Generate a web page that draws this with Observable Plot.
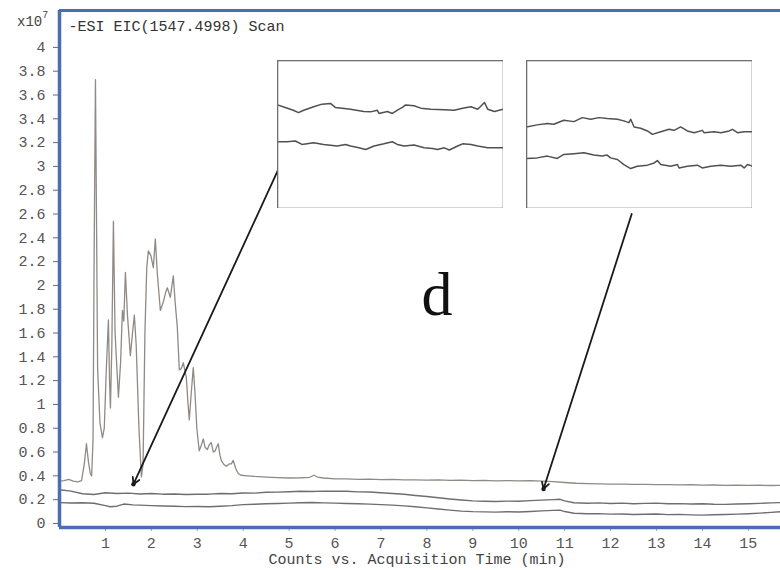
<!DOCTYPE html>
<html>
<head>
<meta charset="utf-8">
<script src="https://cdn.jsdelivr.net/npm/d3@7"></script>
<script src="https://cdn.jsdelivr.net/npm/@observablehq/plot@0.6"></script>
<style>
  html, body { margin: 0; padding: 0; background: #fff; }
  #wrap { position: relative; width: 780px; height: 570px; overflow: hidden; background: #fff; }
  #exp { position: absolute; left: 17px; top: 12px; font-family: 'Liberation Mono', monospace; font-size: 14px; color: #444; }
  #exp sup { font-size: 10px; position: relative; top: -2px; }
  .inset { position: absolute; top: 60px; background: #fff; }
</style>
</head>
<body>
<div id="wrap">
  <div id="exp">x10<sup>7</sup></div>
</div>
<script>
// ---------- data ----------
const titleText = "-ESI EIC(1547.4998) Scan";
const xAxisTitle = "Counts vs. Acquisition Time (min)";
const xTicks = [1,2,3,4,5,6,7,8,9,10,11,12,13,14,15];
const yTicks = [0,0.2,0.4,0.6,0.8,1,1.2,1.4,1.6,1.8,2,2.2,2.4,2.6,2.8,3,3.2,3.4,3.6,3.8,4];

// Top trace (sample), time (min) and counts (x10^7)
const topTime = [0,0.1,0.2,0.3,0.4,0.48,0.54,0.587,0.63,0.67,0.7,0.73,0.755,0.783,0.805,0.83,0.88,0.935,0.975,1.02,1.065,1.09,1.109,1.14,1.174,1.21,1.283,1.33,1.37,1.4,1.435,1.48,1.543,1.59,1.63,1.67,1.73,1.783,1.82,1.86,1.9,1.935,1.99,2.043,2.087,2.13,2.196,2.26,2.31,2.348,2.413,2.478,2.52,2.565,2.609,2.65,2.696,2.761,2.8,2.826,2.87,2.913,2.95,2.99,3.043,3.09,3.13,3.17,3.217,3.26,3.304,3.35,3.391,3.42,3.457,3.49,3.522,3.57,3.63,3.696,3.74,3.783,3.84,3.891,3.95,4.1,4.25,4.5,4.75,5,5.25,5.45,5.54,5.62,5.75,6,6.25,6.5,6.75,7,7.25,7.5,7.75,8,8.25,8.5,8.75,9,9.25,9.5,9.75,10,10.25,10.5,10.75,11,11.25,11.5,11.75,12,12.25,12.5,12.75,13,13.25,13.5,13.75,14,14.25,14.5,14.75,15,15.25,15.5,15.75];
const topCounts = [0.355,0.36,0.37,0.355,0.35,0.36,0.5,0.67,0.52,0.42,0.4,0.7,2.3,3.73,2.6,1.3,0.85,0.72,0.8,1.3,1.71,1.2,0.97,1.5,2.54,1.6,1.06,1.35,1.79,1.7,2.11,1.75,1.41,1.6,1.75,1.5,0.8,0.39,0.5,1.6,2.15,2.29,2.25,2.15,2.39,2.1,1.79,1.86,1.94,1.98,1.9,2.08,1.85,1.65,1.29,1.3,1.35,1.23,1.0,0.87,1.1,1.31,1.1,0.8,0.61,0.66,0.71,0.64,0.62,0.66,0.68,0.6,0.61,0.64,0.67,0.58,0.53,0.5,0.48,0.5,0.5,0.53,0.46,0.42,0.405,0.4,0.395,0.39,0.385,0.382,0.384,0.388,0.405,0.39,0.382,0.375,0.374,0.37,0.372,0.368,0.37,0.366,0.367,0.364,0.366,0.362,0.364,0.36,0.362,0.358,0.36,0.358,0.36,0.356,0.352,0.344,0.338,0.335,0.333,0.33,0.331,0.328,0.329,0.326,0.327,0.324,0.325,0.322,0.323,0.32,0.322,0.32,0.321,0.319,0.32];

// Middle trace
const midTime = [0,0.25,0.5,0.75,1,1.25,1.5,1.75,2,2.25,2.5,2.75,3,3.25,3.5,3.75,4,4.25,4.5,4.75,5,5.25,5.5,5.75,6,6.25,6.5,6.75,7,7.25,7.5,7.75,8,8.25,8.5,8.75,9,9.25,9.5,9.75,10,10.25,10.5,10.75,10.9,11,11.2,11.5,11.75,12,12.25,12.5,12.75,13,13.25,13.5,13.75,14,14.25,14.5,14.75,15,15.25,15.5,15.75];
const midCounts = [0.283,0.272,0.25,0.243,0.258,0.252,0.255,0.248,0.252,0.246,0.248,0.243,0.246,0.246,0.252,0.25,0.256,0.255,0.262,0.263,0.267,0.27,0.268,0.272,0.27,0.271,0.265,0.264,0.258,0.252,0.245,0.235,0.226,0.216,0.206,0.197,0.19,0.187,0.185,0.188,0.186,0.192,0.196,0.2,0.203,0.19,0.174,0.17,0.173,0.168,0.171,0.166,0.169,0.171,0.165,0.167,0.163,0.165,0.161,0.16,0.163,0.166,0.169,0.173,0.176];

// Bottom trace
const botTime = [0,0.25,0.5,0.75,1,1.1,1.25,1.4,1.6,1.75,2,2.25,2.5,2.75,3,3.25,3.5,3.75,4,4.25,4.5,4.75,5,5.25,5.5,5.75,6,6.25,6.5,6.75,7,7.25,7.5,7.75,8,8.25,8.5,8.75,9,9.25,9.5,9.75,10,10.25,10.5,10.75,10.9,11,11.2,11.5,11.75,12,12.25,12.5,12.75,13,13.25,13.5,13.75,14,14.25,14.5,14.75,15,15.25,15.5,15.75];
const botCounts = [0.175,0.172,0.174,0.17,0.15,0.14,0.145,0.163,0.156,0.154,0.15,0.147,0.145,0.141,0.142,0.14,0.145,0.15,0.158,0.161,0.165,0.168,0.171,0.174,0.176,0.173,0.171,0.168,0.165,0.162,0.158,0.154,0.148,0.14,0.131,0.122,0.112,0.104,0.099,0.097,0.095,0.098,0.096,0.101,0.106,0.11,0.112,0.1,0.086,0.082,0.083,0.078,0.08,0.075,0.077,0.079,0.074,0.076,0.072,0.07,0.073,0.075,0.078,0.082,0.087,0.093,0.1];

// Arrows (from inset to the zoomed spot), in time / counts
const arrowFromT = [4.76, 12.46];
const arrowFromV = [2.97, 2.6];
const arrowToT = [1.61, 10.54];
const arrowToV = [0.33, 0.29];

// Panel letter
const panelLetter = ["d"];
const panelT = [8.22];
const panelV = [1.75];

// Inset traces (relative position along zoomed window, relative level)
const insetL_upperX = [0,0.034,0.07,0.093,0.116,0.16,0.197,0.234,0.256,0.286,0.323,0.382,0.412,0.441,0.449,0.486,0.508,0.538,0.553,0.567,0.604,0.634,0.679,0.738,0.782,0.819,0.856,0.886,0.916,0.93,0.96,1];
const insetL_upperY = [0.70,0.683,0.664,0.648,0.664,0.687,0.705,0.71,0.683,0.678,0.671,0.655,0.653,0.664,0.642,0.655,0.642,0.671,0.683,0.70,0.694,0.678,0.671,0.667,0.664,0.678,0.687,0.671,0.716,0.671,0.655,0.671];
const insetL_lowerX = [0,0.041,0.079,0.108,0.16,0.204,0.264,0.301,0.323,0.36,0.39,0.427,0.471,0.508,0.53,0.56,0.604,0.649,0.686,0.708,0.738,0.76,0.797,0.819,0.856,0.886,0.93,1];
const insetL_lowerY = [0.451,0.451,0.456,0.433,0.444,0.433,0.422,0.433,0.422,0.41,0.399,0.422,0.437,0.451,0.433,0.422,0.429,0.41,0.406,0.399,0.41,0.395,0.422,0.437,0.433,0.422,0.41,0.41];
const insetR_upperX = [0,0.047,0.092,0.121,0.165,0.21,0.247,0.284,0.321,0.357,0.402,0.431,0.453,0.461,0.476,0.505,0.535,0.557,0.594,0.631,0.653,0.682,0.712,0.742,0.778,0.786,0.83,0.86,0.897,0.911,0.934,0.963,1];
const insetR_upperY = [0.551,0.565,0.574,0.569,0.596,0.587,0.614,0.603,0.614,0.608,0.603,0.592,0.58,0.603,0.551,0.542,0.524,0.501,0.519,0.535,0.528,0.551,0.524,0.512,0.528,0.512,0.519,0.512,0.524,0.535,0.512,0.519,0.519];
const insetR_lowerX = [0,0.047,0.092,0.136,0.165,0.21,0.254,0.298,0.335,0.357,0.372,0.402,0.431,0.461,0.49,0.535,0.565,0.579,0.594,0.638,0.668,0.675,0.712,0.756,0.778,0.815,0.86,0.904,0.948,0.963,0.978,1];
const insetR_lowerY = [0.338,0.342,0.354,0.338,0.365,0.37,0.376,0.361,0.354,0.361,0.342,0.331,0.297,0.27,0.286,0.293,0.308,0.324,0.297,0.286,0.297,0.274,0.286,0.293,0.274,0.286,0.293,0.286,0.293,0.274,0.297,0.286];

// ---------- build ----------
const zip = (xs, ys) => xs.map((x, i) => ({x, y: ys[i]}));
const topData = zip(topTime, topCounts);
const midData = zip(midTime, midCounts);
const botData = zip(botTime, botCounts);
const arrows = arrowFromT.map((t, i) => ({x1: t, y1: arrowFromV[i], x2: arrowToT[i], y2: arrowToV[i]}));
const letters = panelLetter.map((s, i) => ({text: s, x: panelT[i], y: panelV[i]}));

const xDomain = [0, 15.7];
const yDomain = [-0.034, 4.31];
const blue = "#4a6db5";
const mono = "'Liberation Mono', 'DejaVu Sans Mono', monospace";
const fmtY = d => Math.abs(d - Math.round(d)) < 1e-9 ? String(Math.round(d)) : d.toFixed(1);

const main = Plot.plot({
  width: 780, height: 570,
  marginLeft: 59, marginRight: 0, marginTop: 10, marginBottom: 43,
  x: {domain: xDomain},
  y: {domain: yDomain},
  style: {fontFamily: mono, fontSize: "15px", background: "#fff", color: "#444"},
  marks: [
    Plot.axisY({ticks: yTicks, tickFormat: fmtY, tickSize: 6, tickPadding: 8, label: null, stroke: "#5a6a8a", fill: "#555", fontSize: 15}),
    Plot.axisX({ticks: xTicks, tickFormat: d => String(d), tickSize: 4, tickPadding: 6, label: null, stroke: "#9aa8c8", fill: "#555", fontSize: 15}),
    Plot.line(botData, {x: "x", y: "y", stroke: "#6e6e6e", strokeWidth: 1.4}),
    Plot.line(midData, {x: "x", y: "y", stroke: "#6e6e6e", strokeWidth: 1.4}),
    Plot.line(topData, {x: "x", y: "y", stroke: "#8f8a85", strokeWidth: 1.3, curve: "linear"}),
    Plot.ruleX([xDomain[0]], {stroke: blue, strokeWidth: 3.5}),
    Plot.ruleY([yDomain[0]], {stroke: blue, strokeWidth: 3.5}),
    Plot.ruleY([yDomain[1]], {stroke: blue, strokeWidth: 3}),
    Plot.arrow(arrows, {x1: "x1", y1: "y1", x2: "x2", y2: "y2", stroke: "#1a1a1a", strokeWidth: 1.8, headLength: 6}),
    Plot.dot(arrows, {x: "x2", y: "y2", r: 2.2, fill: "#1a1a1a", stroke: null}),
    Plot.text(letters, {x: "x", y: "y", text: "text", fontFamily: "'Liberation Serif', serif", fontSize: 62, fill: "#111", lineAnchor: "bottom", textAnchor: "middle"}),
    Plot.text([titleText], {frameAnchor: "top-left", dx: 9, dy: 16, lineAnchor: "middle", textAnchor: "start", fill: "#333", fontSize: 15}),
    Plot.text([xAxisTitle], {frameAnchor: "bottom", dx: -3, dy: 32, lineAnchor: "middle", fill: "#444", fontSize: 15})
  ]
});
const wrap = document.getElementById("wrap");
wrap.insertBefore(main, wrap.firstChild);

function inset(upper, lower, left) {
  const p = Plot.plot({
    width: 226, height: 148, margin: 0,
    x: {domain: [0, 1], axis: null},
    y: {domain: [0, 1], axis: null},
    style: {background: "#fff"},
    marks: [
      Plot.line(upper, {x: "x", y: "y", stroke: "#505050", strokeWidth: 1.5}),
      Plot.line(lower, {x: "x", y: "y", stroke: "#505050", strokeWidth: 1.5}),
      Plot.frame({stroke: "#6f6f6f", strokeWidth: 1.6})
    ]
  });
  const d = document.createElement("div");
  d.className = "inset";
  d.style.left = left + "px";
  d.appendChild(p);
  wrap.appendChild(d);
}
inset(zip(insetL_upperX, insetL_upperY), zip(insetL_lowerX, insetL_lowerY), 277);
inset(zip(insetR_upperX, insetR_upperY), zip(insetR_lowerX, insetR_lowerY), 526);
</script>
</body>
</html>
